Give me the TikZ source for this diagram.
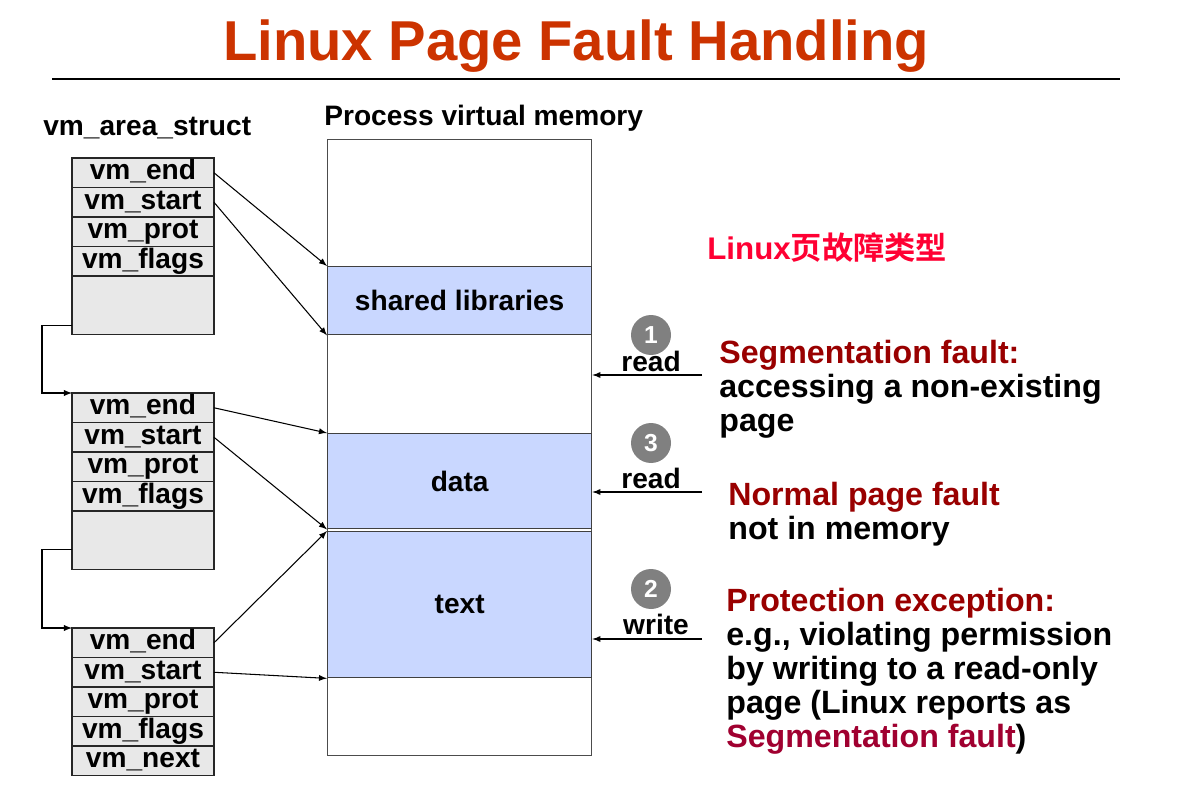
\documentclass[tikz,border=0pt]{standalone}
\usepackage{fontspec}
\setmainfont{Liberation Sans}
\newfontfamily\cjk{Noto Sans CJK SC}[BoldFont={* Bold}]
\usetikzlibrary{positioning}
\definecolor{titlered}{HTML}{CC3300}
\definecolor{faultred}{HTML}{990000}
\definecolor{segred}{HTML}{A00030}
\definecolor{cnred}{HTML}{FF0033}
\definecolor{fieldgray}{HTML}{E8E8E8}
\definecolor{regionblue}{HTML}{C9D7FF}

\begin{document}
\begin{tikzpicture}[x=0.02cm,y=-0.02cm,font=\fontsize{16}{19}\selectfont\bfseries,
  field/.style={draw=black!85,fill=fieldgray,line width=0.8pt,minimum width=2.84cm,
    minimum height=0.59cm,inner ysep=0pt,outer sep=0pt,text height=12.4pt,text depth=4.4pt},
  spare/.style={field,minimum height=1.17cm},
  region/.style={draw=black!75,fill=regionblue,line width=0.8pt,minimum width=5.28cm,
    inner sep=0pt,anchor=north west},
  ptr/.style={-latex,line width=0.6pt},
  badge/.style={circle,fill=black!50,minimum size=0.8cm,inner sep=0pt,text=white,
    font=\fontsize{14}{14}\selectfont\bfseries},
  head/.style={anchor=base west,inner sep=0pt},
  fault/.style={anchor=base west,align=left,inner sep=0pt,
    font=\fontsize{18.3}{19.35}\selectfont\bfseries}]
\useasboundingbox (0,0) rectangle (1194,801);

\node[anchor=base,text=titlered,font=\fontsize{32}{36}\selectfont\bfseries] (title) at (576,60) {Linux Page Fault Handling};
\draw[line width=1.6pt] (52,79) -- (1120,79);

\node[head] (vmhead) at (43,135) {vm\_area\_struct};
\node[head] (memhead) at (324,125) {Process virtual memory};

% vm_area_struct list
\node[field,anchor=north west] (a1) at (72,158) {vm\_end};
\node[field,below=0pt of a1] (a2) {vm\_start};
\node[field,below=0pt of a2] (a3) {vm\_prot};
\node[field,below=0pt of a3] (a4) {vm\_flags};
\node[spare,below=0pt of a4] (a5) {};

\node[field,anchor=north west] (b1) at (72,393) {vm\_end};
\node[field,below=0pt of b1] (b2) {vm\_start};
\node[field,below=0pt of b2] (b3) {vm\_prot};
\node[field,below=0pt of b3] (b4) {vm\_flags};
\node[spare,below=0pt of b4] (b5) {};

\node[field,anchor=north west] (c1) at (72,628) {vm\_end};
\node[field,below=0pt of c1] (c2) {vm\_start};
\node[field,below=0pt of c2] (c3) {vm\_prot};
\node[field,below=0pt of c3] (c4) {vm\_flags};
\node[field,below=0pt of c4] (c5) {vm\_next};

\draw[ptr] ([yshift=0.18cm]a5.south west) -- ++(-30,0) |- (b1.north west);
\draw[ptr] ([yshift=0.4cm]b5.south west) -- ++(-30,0) |- (c1.north west);

% process virtual memory
\node[draw=black!70,line width=0.8pt,minimum width=5.28cm,minimum height=12.32cm,
  inner sep=0pt,anchor=north west] (mem) at (327,139) {};
\node[region,minimum height=1.36cm] (shl) at (327,266) {shared libraries};
\node[region,minimum height=1.9cm] (data) at (327,433) {data};
\node[region,minimum height=2.92cm] (text) at (327,531) {text};

\draw[ptr] (a1.east) -- (shl.north west);
\draw[ptr] (a2.east) -- (shl.south west);
\draw[ptr] (b1.east) -- (data.north west);
\draw[ptr] (b2.east) -- (data.south west);
\draw[ptr] (c1.east) -- (text.north west);
\draw[ptr] (c2.east) -- (text.south west);

% faults
\node[badge] (n1) at (651,335) {1};
\node[anchor=base] (r1) at (651,371) {read};
\coordinate (q1) at (702,375);
\draw[ptr] (q1) -- (q1 -| mem.east);

\node[badge] (n3) at (651,443) {3};
\node[anchor=base] (r3) at (651,488) {read};
\coordinate (q3) at (702,492);
\draw[ptr] (q3) -- (q3 -| mem.east);

\node[badge] (n2) at (651,589) {2};
\node[anchor=base] (r2) at (656,634) {write};
\coordinate (q2) at (702,639);
\draw[ptr] (q2) -- (q2 -| mem.east);

\node[head,text=cnred,font=\fontsize{17.8}{20}\selectfont\bfseries] (kinds) at (707,259) {Linux{\cjk 页故障类型}};

\node[fault] (segf) at (719,431) {\textcolor{faultred}{Segmentation fault:}\\accessing a non-existing\\page};
\node[fault] (normf) at (728,539) {\textcolor{faultred}{Normal page fault}\\not in memory};
\node[fault] (protf) at (726,747) {\textcolor{faultred}{Protection exception:}\\e.g., violating permission\\by writing to a read-only\\page (Linux reports as\\\textcolor{segred}{Segmentation fault})};
\end{tikzpicture}
\end{document}
